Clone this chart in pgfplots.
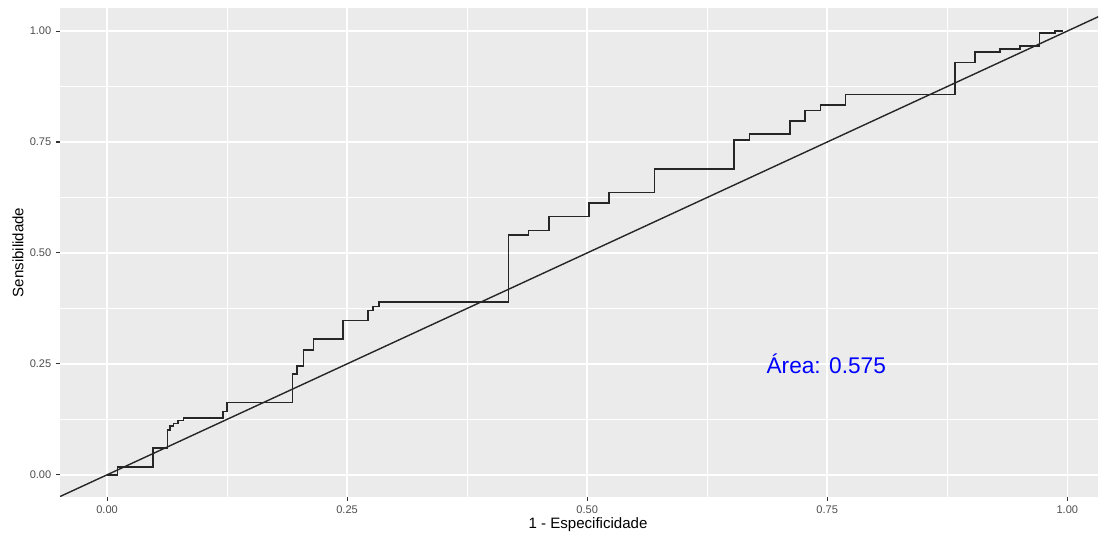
\documentclass[border=0pt]{standalone}
\usepackage{fontspec}
\setmainfont{Liberation Sans}
\usepackage{pgfplots}
\pgfplotsset{compat=1.18}
\definecolor{panelbg}{HTML}{EBEBEB}
\definecolor{ticklab}{HTML}{4D4D4D}
\definecolor{tickcol}{HTML}{333333}
\begin{document}
\begin{tikzpicture}
\begin{axis}[
  scale only axis, width=778.5pt, height=366.75pt,
  xmin=-0.049, xmax=1.032, ymin=-0.05, ymax=1.052,
  axis background/.style={fill=panelbg},
  axis line style={draw=none},
  xtick={0,0.25,0.5,0.75,1}, ytick={0,0.25,0.5,0.75,1},
  minor xtick={0.125,0.375,0.625,0.875}, minor ytick={0.125,0.375,0.625,0.875},
  grid=both,
  major grid style={white, line width=1.1pt},
  minor grid style={white, line width=0.55pt},
  tick style={tickcol, line width=0.8pt},
  major tick length=3pt, minor tick length=0pt,
  tick align=outside, xtick pos=bottom, ytick pos=left,
  ticklabel style={font=\fontsize{8.3}{10}\selectfont, text=ticklab},
  /pgf/number format/fixed, /pgf/number format/fixed zerofill,
  /pgf/number format/precision=2, /pgf/number format/assume math mode=true,
  xlabel={1 - Especificidade}, ylabel={Sensibilidade},
  label style={font=\fontsize{11.3}{13}\selectfont, text=black},
  xlabel style={at={(axis description cs:0.5087,-0.0573)}, anchor=center},
  ylabel style={at={(axis description cs:-0.0405,0.5)}, anchor=center, rotate=0},
  clip=true,
]
\addplot[black!85, line width=1.05pt] coordinates {(-0.2,-0.2) (1.2,1.2)};
\addplot[const plot, black!85, line width=1.2pt] coordinates {
(0,0)
(0.011,0.017)
(0.048,0.060)
(0.063,0.101)
(0.0656,0.110)
(0.069,0.116)
(0.074,0.122)
(0.0795,0.128)
(0.121,0.143)
(0.125,0.163)
(0.193,0.227)
(0.198,0.245)
(0.2045,0.2815)
(0.215,0.306)
(0.246,0.3475)
(0.272,0.370)
(0.277,0.379)
(0.283,0.390)
(0.418,0.540)
(0.439,0.551)
(0.460,0.582)
(0.502,0.612)
(0.523,0.636)
(0.570,0.689)
(0.653,0.755)
(0.669,0.768)
(0.711,0.797)
(0.727,0.821)
(0.743,0.833)
(0.769,0.857)
(0.883,0.929)
(0.904,0.953)
(0.930,0.959)
(0.951,0.966)
(0.971,0.995)
(0.9875,1.0)
(0.996,1.0)
};
\node[text=blue, font=\fontsize{17}{20}\selectfont] at (axis cs:0.749,0.25) {Área: 0.575};
\end{axis}
\pgfresetboundingbox
\path ([shift={(-45pt,-30.75pt)}]current axis.south west) rectangle ([shift={(7.5pt,6pt)}]current axis.north east);
\end{tikzpicture}
\end{document}
